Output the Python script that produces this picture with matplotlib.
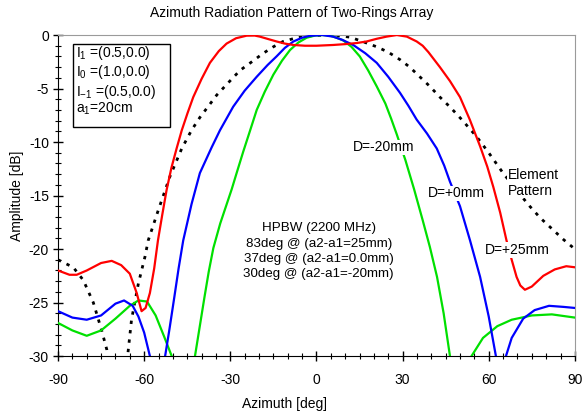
import matplotlib
matplotlib.use("Agg")
import matplotlib.pyplot as plt
from matplotlib.ticker import MultipleLocator
from matplotlib.patches import Rectangle

plt.rcParams['font.family'] = ['Liberation Sans', 'DejaVu Sans']
plt.rcParams['mathtext.fontset'] = 'custom'
plt.rcParams['mathtext.rm'] = 'Liberation Sans'

# D = -20 mm (green)
green_az = [-90, -85, -80, -75, -70, -65, -62, -59, -56, -53, -50.4, -46, -42.3, -40.5, -39,
            -37.5, -35.9, -33.5, -31.5, -29.5, -27.8, -25.5, -23.2, -20.8, -18, -15, -12, -9.2,
            -6.3, -3.4, -0.5, 2, 4.7, 7, 9.3, 12.2, 15.1, 18, 21, 24, 26, 28, 31, 34, 37, 39.5,
            42, 44.3, 46.5, 50, 54, 58, 63, 68, 75, 82, 90]
green_db = [-26.9, -27.6, -28.1, -27.6, -26.5, -25.3, -24.8, -24.9, -26.2, -28.2, -30, -40, -30,
            -27.0, -24.5, -22.1, -19.9, -17.6, -16.0, -14.4, -12.9, -10.9, -9.0, -7.0, -5.3,
            -3.7, -2.4, -1.4, -0.7, -0.25, -0.05, 0, -0.06, -0.25, -0.5, -1.1, -2.0, -3.3, -4.8,
            -6.4, -7.8, -9.3, -11.7, -14.4, -17.3, -19.8, -22.6, -26.0, -30, -40, -30, -28.3,
            -27.2, -26.6, -26.2, -26.1, -26.4]

# D = +0 mm (blue)
blue_az = [-90, -85, -80, -75, -70, -67, -64, -62, -60, -58, -55.5, -52.7, -51.2, -49.5, -48,
           -46.4, -43.5, -40.6, -36.5, -33.6, -29, -25, -20.8, -17, -13.9, -11, -8, -5, -2.3, 2,
           5.8, 9, 12.8, 17, 21, 25, 29.1, 32, 34.9, 38.5, 41.9, 44.5, 46.5, 50, 53.5, 57, 60,
           62.5, 64, 66, 68, 72, 76, 81, 86, 90]
blue_db = [-25.8, -26.4, -26.6, -26.2, -25.1, -24.8, -25.3, -26.3, -27.8, -30, -38, -30, -27.5,
           -24.5, -21.8, -19.2, -15.8, -12.9, -10.5, -8.9, -6.7, -5.2, -3.9, -2.8, -2.0, -1.2,
           -0.6, -0.25, -0.08, 0, -0.15, -0.45, -0.93, -1.7, -2.6, -3.9, -5.4, -6.6, -7.9, -9.2,
           -10.6, -12.2, -13.7, -16.0, -19.2, -22.6, -26.3, -30, -38, -30, -28.3, -26.5, -25.7,
           -25.3, -25.4, -25.5]

# D = +25 mm (red)
red_az = [-90, -86, -83.5, -80, -75, -71.3, -68, -65, -62.6, -60.9, -59.5, -58, -56.5, -55.2,
          -53.7, -52.2, -50.5, -48.7, -46.9, -44.9, -42.9, -40, -37.1, -34, -31.3, -28, -24.3,
          -21.5, -19.7, -16.5, -13.9, -11, -8, -4, 0, 5.8, 10, 14, 17.5, 21, 24.4, 28, 31.5,
          34.9, 37, 39, 41, 43, 46.5, 50, 53.4, 57, 59.5, 61.6, 64, 66.2, 68, 69.7, 71, 72.6,
          75, 79, 83, 87, 90]
red_db = [-22.0, -22.4, -22.4, -22.0, -21.3, -21.1, -21.5, -22.3, -24.1, -25.8, -25.5, -24.1,
          -21.8, -19.2, -16.8, -14.5, -12.4, -10.6, -8.9, -7.3, -5.8, -4.1, -2.6, -1.5, -0.8,
          -0.3, -0.06, -0.05, -0.15, -0.4, -0.6, -0.8, -0.93, -1.0, -1.0, -0.93, -0.85, -0.75,
          -0.6, -0.35, -0.15, 0, -0.15, -0.6, -1.0, -1.6, -2.3, -3.0, -4.3, -5.8, -7.9, -10.4,
          -12.3, -14.2, -16.6, -19.2, -21.0, -22.6, -23.4, -23.8, -23.5, -22.5, -21.9, -21.6,
          -21.7]

# Element pattern (black dotted)
elem_az = [-90, -84.7, -81.2, -77.7, -74.8, -73, -69, -65.6, -64.4, -62, -59.7, -58.6, -55,
           -51, -46.9, -43.5, -40.6, -37.5, -34.7, -30.5, -26.6, -22.5, -18.5, -15, -11.6, -7.5,
           -3.4, 3, 7.5, 11.7, 16, 21, 25, 29.1, 32.5, 36, 39.5, 43, 46.8, 50.6, 55.8, 60, 65,
           70, 74.3, 78, 82, 86, 90]
elem_db = [-21, -21.7, -22.9, -25.0, -27.6, -29.4, -40, -29.6, -26.6, -23.2, -20.7, -19.2,
           -16.3, -13.2, -10.6, -8.9, -7.7, -6.6, -5.6, -4.4, -3.3, -2.5, -1.7, -1.1, -0.6,
           -0.3, -0.1, 0, -0.05, -0.2, -0.6, -1.1, -1.6, -2.3, -3.0, -3.9, -4.8, -5.8, -6.8,
           -7.9, -9.5, -11.0, -12.9, -14.6, -16.0, -17.1, -18.1, -19.1, -20.0]

x_ticks = [-90, -60, -30, 0, 30, 60, 90]
y_ticks = [-30, -25, -20, -15, -10, -5, 0]

fig = plt.figure(figsize=(5.86, 4.17), dpi=100)
ax = fig.add_axes([0.099, 0.146, 0.882, 0.77])

ax.plot(elem_az, elem_db, color='black', lw=2.0, linestyle=(0, (1.2, 2.2)), zorder=2)
ax.plot(green_az, green_db, color='#00e000', lw=1.6, zorder=3)
ax.plot(blue_az, blue_db, color='#0000ff', lw=1.6, zorder=4)
ax.plot(red_az, red_db, color='#ff0000', lw=1.6, zorder=5)

ax.set_xlim(-90, 90)
ax.set_ylim(-30, 0)
ax.set_xticks(x_ticks)
ax.set_yticks(y_ticks)
ax.set_xticklabels([str(v) for v in x_ticks])
ax.set_yticklabels([str(v) for v in y_ticks])
ax.xaxis.set_minor_locator(MultipleLocator(5))
ax.yaxis.set_minor_locator(MultipleLocator(1))
ax.tick_params(which='major', direction='inout', length=7, width=1, labelsize=10)
ax.tick_params(which='minor', direction='inout', length=4, width=0.8)
ax.tick_params(axis='x', which='major', pad=9)
ax.tick_params(axis='y', which='major', pad=3)
ax.tick_params(top=False, right=False, which='both')
for s in ['top', 'right']:
    ax.spines[s].set_color('#9a9a9a')
for s in ['left', 'bottom']:
    ax.spines[s].set_color('black')

ax.set_xlabel('Azimuth [deg]', fontsize=10)
ax.xaxis.set_label_coords(0.438, -0.128)
ax.set_ylabel('Amplitude [dB]', fontsize=10)
ax.yaxis.set_label_coords(-0.066, 0.5)
fig.text(0.498, 0.9695, 'Azimuth Radiation Pattern of Two-Rings Array', ha='center', va='center', fontsize=10)

# annotations on the curves
wb = dict(boxstyle='square,pad=0.05', fc='white', ec='none')
ax.text(23.3, -10.5, 'D=-20mm', fontsize=10, ha='center', va='center', bbox=wb, zorder=6)
ax.text(48.6, -14.8, 'D=+0mm', fontsize=10, ha='center', va='center', bbox=wb, zorder=6)
ax.text(70.0, -20.1, 'D=+25mm', fontsize=10, ha='center', va='center', bbox=wb, zorder=6)
ax.text(66.7, -13.8, 'Element\nPattern', fontsize=10, ha='left', va='center', linespacing=1.15,
        bbox=wb, zorder=6)
ax.text(0.8, -20.2, 'HPBW (2200 MHz)\n83deg @ (a2-a1=25mm)\n37deg @ (a2-a1=0.0mm)\n30deg @ (a2-a1=-20mm)',
        fontsize=9.6, ha='center', va='center', linespacing=1.36, zorder=6)

# parameter box
ax.add_patch(Rectangle((-84.9, -8.57), 33.9, 7.73, fc='white', ec='black', lw=1, zorder=6))
param_lines = [r'$\mathregular{I_1}$ =(0.5,0.0)',
               r'$\mathregular{I_0}$ =(1.0,0.0)',
               r'$\mathregular{I_{-1}}$ =(0.5,0.0)',
               r'$\mathregular{a_1}$=20cm']
param_y = [-1.68, -3.46, -5.33, -6.92]
for txt, yy in zip(param_lines, param_y):
    ax.text(-83.8, yy, txt, fontsize=10, ha='left', va='center', zorder=7)

fig.savefig('out.png', dpi=100)
